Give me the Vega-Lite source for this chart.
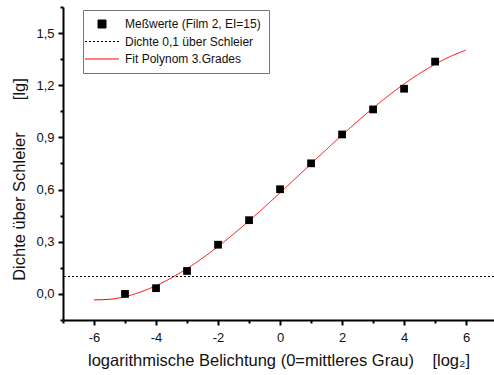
{
  "$schema": "https://vega.github.io/schema/vega-lite/v6.json",
  "width": 431,
  "height": 313,
  "autosize": {"type": "none"},
  "padding": {"left": 63, "top": 7, "right": 0, "bottom": 55},
  "background": "white",
  "config": {
    "view": {"stroke": null},
    "font": "Liberation Sans",
    "axis": {
      "grid": false,
      "domainColor": "black",
      "domainWidth": 2,
      "tickColor": "black",
      "tickWidth": 2,
      "tickSize": 5,
      "labelFont": "Liberation Sans",
      "labelFontSize": 13,
      "labelColor": "#111",
      "titleFont": "Liberation Sans",
      "titleFontSize": 16.5,
      "titleFontWeight": "normal",
      "titleColor": "#111"
    }
  },
  "resolve": {"axis": {"x": "independent", "y": "independent"}},
  "layer": [
    {
      "data": {"values": [
        {"series": "Dichte 0,1 über Schleier", "y": 0.1}
      ]},
      "mark": {"type": "rule", "strokeWidth": 1},
      "encoding": {
        "y": {
          "field": "y", "type": "quantitative",
          "axis": {
            "orient": "left",
            "values": [-0.15, 0.15, 0.45, 0.75, 1.05, 1.35, 1.65],
            "tickSize": 3,
            "labels": false,
            "domain": false,
            "title": null
          }
        },
        "color": {"field": "series", "type": "nominal"},
        "strokeDash": {
          "field": "series", "type": "nominal",
          "scale": {
            "domain": ["Meßwerte (Film 2, EI=15)", "Dichte 0,1 über Schleier", "Fit Polynom 3.Grades"],
            "range": [[1, 0], [2, 2], [1, 0]]
          }
        }
      }
    },
    {
      "data": {"values": [
        {"x": -6, "y": -0.0345}, {"x": -5.5, "y": -0.0309}, {"x": -5, "y": -0.0155},
        {"x": -4.5, "y": 0.0109}, {"x": -4, "y": 0.0471}, {"x": -3.5, "y": 0.0923},
        {"x": -3, "y": 0.1457}, {"x": -2.5, "y": 0.2061}, {"x": -2, "y": 0.2727},
        {"x": -1.5, "y": 0.3445}, {"x": -1, "y": 0.4205}, {"x": -0.5, "y": 0.4999},
        {"x": 0, "y": 0.5816}, {"x": 0.5, "y": 0.6647}, {"x": 1, "y": 0.7483},
        {"x": 1.5, "y": 0.8315}, {"x": 2, "y": 0.9133}, {"x": 2.5, "y": 0.9927},
        {"x": 3, "y": 1.0687}, {"x": 3.5, "y": 1.1405}, {"x": 4, "y": 1.2071},
        {"x": 4.5, "y": 1.2675}, {"x": 5, "y": 1.3209}, {"x": 5.5, "y": 1.3661},
        {"x": 6, "y": 1.4025}
      ]},
      "transform": [{"calculate": "'Fit Polynom 3.Grades'", "as": "series"}],
      "mark": {"type": "line", "strokeWidth": 1, "interpolate": "monotone"},
      "encoding": {
        "x": {
          "field": "x", "type": "quantitative",
          "axis": {
            "orient": "bottom",
            "values": [-7, -5, -3, -1, 1, 3, 5],
            "tickSize": 3,
            "labels": false,
            "domain": false,
            "title": null
          }
        },
        "y": {"field": "y", "type": "quantitative", "axis": null},
        "color": {"field": "series", "type": "nominal"},
        "strokeDash": {"field": "series", "type": "nominal"}
      }
    },
    {
      "data": {"values": [
        {"x": -5, "y": 0.0}, {"x": -4, "y": 0.033}, {"x": -3, "y": 0.132},
        {"x": -2, "y": 0.283}, {"x": -1, "y": 0.424}, {"x": 0, "y": 0.602},
        {"x": 1, "y": 0.751}, {"x": 2, "y": 0.917}, {"x": 3, "y": 1.061},
        {"x": 4, "y": 1.18}, {"x": 5, "y": 1.336}
      ]},
      "transform": [{"calculate": "'Meßwerte (Film 2, EI=15)'", "as": "series"}],
      "mark": {"type": "point", "filled": true, "size": 60, "opacity": 1},
      "encoding": {
        "x": {
          "field": "x", "type": "quantitative",
          "scale": {"domain": [-7, 6.9], "nice": false, "zero": false},
          "axis": {
            "orient": "bottom",
            "title": "logarithmische Belichtung (0=mittleres Grau)\u00a0\u00a0\u00a0\u00a0[log₂]",
            "values": [-6, -4, -2, 0, 2, 4, 6],
            "labelExpr": "'' + datum.value",
            "labelPadding": 6,
            "titlePadding": 8
          }
        },
        "y": {
          "field": "y", "type": "quantitative",
          "scale": {"domain": [-0.15, 1.65], "nice": false, "zero": false},
          "axis": {
            "orient": "left",
            "title": "Dichte über Schleier\u00a0\u00a0\u00a0\u00a0\u00a0\u00a0\u00a0[lg]",
            "values": [0, 0.3, 0.6, 0.9, 1.2, 1.5],
            "labelExpr": "replace(format(datum.value, '.1f'), '.', ',')",
            "labelPadding": 4,
            "titlePadding": 8,
            "titleY": 172
          }
        },
        "color": {
          "field": "series", "type": "nominal",
          "scale": {
            "domain": ["Meßwerte (Film 2, EI=15)", "Dichte 0,1 über Schleier", "Fit Polynom 3.Grades"],
            "range": ["black", "black", "red"]
          },
          "legend": {
            "title": null,
            "orient": "none",
            "legendX": 20,
            "legendY": 3,
            "direction": "vertical",
            "fillColor": "white",
            "strokeColor": "#777",
            "padding": 8,
            "symbolOffset": 5,
            "labelFont": "Liberation Sans",
            "labelFontSize": 12,
            "labelColor": "#111",
            "labelOffset": 17,
            "symbolSize": 64,
            "symbolStrokeWidth": 1,
            "rowPadding": 5.5
          }
        },
        "shape": {
          "field": "series", "type": "nominal",
          "scale": {
            "domain": ["Meßwerte (Film 2, EI=15)", "Dichte 0,1 über Schleier", "Fit Polynom 3.Grades"],
            "range": ["square", "M-4.25,0H4.25", "M-4.25,0H4.25"]
          }
        }
      }
    }
  ]
}
